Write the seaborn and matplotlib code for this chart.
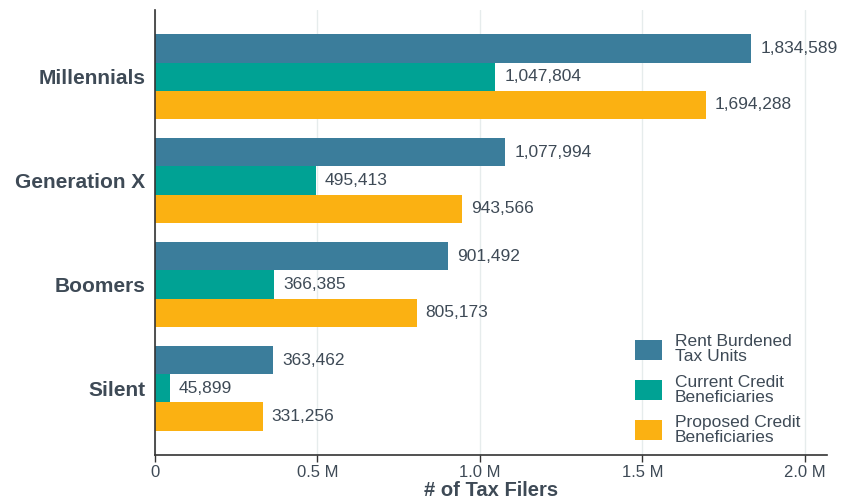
import matplotlib
matplotlib.use("Agg")
import matplotlib.pyplot as plt
import seaborn as sns
import pandas as pd

generations = ["Millennials", "Generation X", "Boomers", "Silent"]
series = ["Rent Burdened\nTax Units", "Current Credit\nBeneficiaries", "Proposed Credit\nBeneficiaries"]
rent_burdened = [1834589, 1077994, 901492, 363462]
current_credit = [1047804, 495413, 366385, 45899]
proposed_credit = [1694288, 943566, 805173, 331256]
colors = ["#3B7D9B", "#00A294", "#FBB112"]
xticks = [0, 500000, 1000000, 1500000, 2000000]
xticklabels = ["0", "0.5 M", "1.0 M", "1.5 M", "2.0 M"]

rows = []
for s, vals in zip(series, [rent_burdened, current_credit, proposed_credit]):
    for g, v in zip(generations, vals):
        rows.append({"Generation": g, "Series": s, "Value": v})
df = pd.DataFrame(rows)

sns.set_theme(style="white")
text_color = "#3E4A56"
plt.rcParams["font.family"] = ["Liberation Sans", "DejaVu Sans"]

fig = plt.figure(figsize=(8.47, 5.04), dpi=100)
ax = fig.add_axes([155/847, 1-455/504, (827-155)/847, (455-10)/504])

sns.barplot(data=df, y="Generation", x="Value", hue="Series", order=generations,
            hue_order=series, palette=colors, orient="h", width=0.81,
            saturation=1, ax=ax, errorbar=None, linewidth=0)

for cont in ax.containers:
    ax.bar_label(cont, labels=[f"{v:,.0f}" for v in cont.datavalues],
                 padding=6.5, fontsize=12.5, color=text_color)

ax.set_xlim(0, 2068000)
ax.set_ylim(3.64, -0.64)
ax.set_xticks(xticks)
ax.set_xticklabels(xticklabels, fontsize=12, color=text_color,
                   family=["Liberation Sans Narrow", "Liberation Sans"])
ax.tick_params(axis="x", bottom=True, length=5, width=1, color="#333333", pad=2)
ax.tick_params(axis="y", left=False, length=0, pad=7)
for lbl in ax.get_yticklabels():
    lbl.set_fontsize(15)
    lbl.set_fontweight("bold")
    lbl.set_color(text_color)
ax.set_ylabel("")
ax.set_xlabel("# of Tax Filers", fontsize=14.5, fontweight="bold", color=text_color,
              family=["Liberation Sans Narrow", "Liberation Sans"], labelpad=1)

ax.grid(axis="x", color="#E6ECEC", linewidth=1)
ax.set_axisbelow(True)
for side in ["top", "right"]:
    ax.spines[side].set_visible(False)
for side in ["left", "bottom"]:
    ax.spines[side].set_color("#333333")
    ax.spines[side].set_linewidth(1.2)

leg = ax.legend(loc="lower left", bbox_to_anchor=(0.714, 0.022), frameon=False,
                fontsize=12.5, handlelength=1.55, handleheight=1.4,
                labelspacing=0.6, handletextpad=0.75, borderaxespad=0, borderpad=0)
for t in leg.get_texts():
    t.set_color(text_color)
    t.set_linespacing(1.0)

fig.savefig("out.png", dpi=100)
